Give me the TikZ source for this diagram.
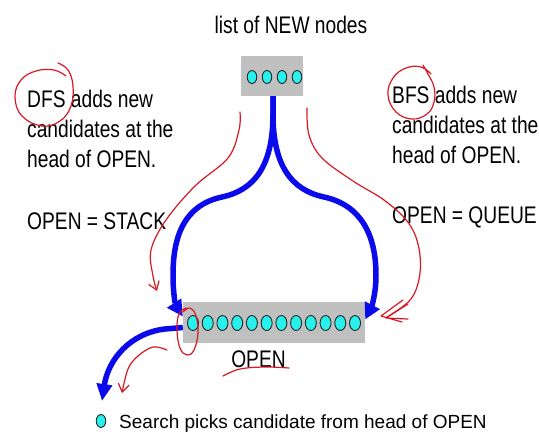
\documentclass[tikz,border=0pt]{standalone}
\usepackage{fontspec}
\newfontfamily\tallsans{Liberation Sans}[FakeStretch=0.8]
\newfontfamily\plainsans{Liberation Sans}
\usetikzlibrary{arrows.meta,shapes.geometric}

\definecolor{boxgray}{RGB}{192,192,192}
\definecolor{nodecyan}{RGB}{40,240,235}
\definecolor{flowblue}{RGB}{10,10,235}
\definecolor{inkred}{RGB}{215,25,35}

\tikzset{
  graybox/.style={rectangle, fill=boxgray, inner sep=0pt},
  dot/.style={ellipse, draw=black!85, line width=0.9pt, fill=nodecyan,
    minimum width=9.5pt, minimum height=13pt, inner sep=0pt},
  bigdot/.style={dot, minimum width=11pt, minimum height=15pt},
  label text/.style={inner sep=0pt, font=\tallsans\fontsize{24}{30}\selectfont},
  legend text/.style={inner sep=0pt, font=\plainsans\fontsize{19}{23}\selectfont},
  flow/.style={draw=flowblue, line width=5.5pt,
    -{Triangle[length=16pt,width=16pt]}},
  ink/.style={draw=inkred, line width=1.2pt, line cap=round, line join=round},
  inkarrow/.style={ink, -{Straight Barb[length=8pt,width=11pt]}},
}

\begin{document}
\begin{tikzpicture}[x=1pt,y=-1pt]
\useasboundingbox (0,0) rectangle (539,437);

% title
\node[label text, anchor=base] (title) at (291,33) {list of NEW nodes};

% list of new nodes
\node[graybox, minimum width=62pt, minimum height=40pt] (newbox) at (272,76) {};
\foreach \i in {0,...,3}
  \node[dot] (n\i) at ({252+15*\i},77) {};

% OPEN list
\node[graybox, minimum width=182pt, minimum height=41pt] (openbox) at (274,322.5) {};
\foreach \i in {0,...,11}
  \node[bigdot] (o\i) at ({193+14.73*\i},323) {};
\node[label text, anchor=base] (openlabel) at (258.5,367) {OPEN};

% side texts
\node[label text, anchor=base west] (dfsa) at (27,107) {DFS adds new};
\node[label text, anchor=base west] (dfsb) at (27,137) {candidates at the};
\node[label text, anchor=base west] (dfsc) at (27,167) {head of OPEN.};
\node[label text, anchor=base west] (dfsd) at (27,229) {OPEN = STACK};

\node[label text, anchor=base west] (bfsa) at (392,103) {BFS adds new};
\node[label text, anchor=base west] (bfsb) at (392,133) {candidates at the};
\node[label text, anchor=base west] (bfsc) at (392,163) {head of OPEN.};
\node[label text, anchor=base west] (bfsd) at (392,223) {OPEN = QUEUE};

% legend
\node[dot] (legdot) at (101,421) {};
\node[legend text, anchor=base west] (legtext) at (119,428) {Search picks candidate from head of OPEN};

% blue flows from the new list into OPEN
\draw[flow] ([xshift=1pt]newbox.south) -- ++(0,18)
  .. controls (273,165) and (255,190) .. (222,197)
  .. controls (185,205) and (173,235) .. (173,275)
  .. controls (173,295) and (176,306) .. ([yshift=6pt]openbox.west);
\draw[flow] ([xshift=1pt]newbox.south) -- ++(0,18)
  .. controls (273,165) and (291,190) .. (324,197)
  .. controls (361,205) and (376,235) .. (376,275)
  .. controls (376,295) and (371,308) .. ([yshift=3pt]openbox.east);

% candidate leaving the head of OPEN
\coordinate (pick) at (102,401);
\draw[draw=flowblue, line width=5.5pt, -{Triangle[length=17pt,width=15pt]}]
  ([yshift=-5pt]openbox.west) -- (165,329)
  .. controls (130,333) and (108,360) .. (pick);

% red pen annotations
\draw[ink] plot[smooth, tension=0.7] coordinates {(58,63) (68,70) (73,86) (71,106) (60,121) (42,126) (22,116) (15,97) (21,80) (36,71) (54,70) (66,76)};
\draw[ink] plot[smooth, tension=0.7] coordinates {(423,65) (428,74) (434,87) (434,102) (427,114) (412,119) (396,112) (388,95) (393,78) (406,68) (421,67) (431,74)};

\draw[inkarrow] plot[smooth, tension=0.6] coordinates {(240,112) (239,130) (228,158) (195,186) (166,220) (151,250) (153,276) (157,291)};
\draw[ink] plot[smooth, tension=0.6] coordinates {(307,108) (309,135) (322,158) (353,181) (384,200) (407,221) (418,244) (420,273) (411,299) (387,317)};
\draw[ink] (408,304) -- (386,318) -- (408,319);
\draw[ink] (403,300) -- (381,316) -- (402,322);

\draw[ink] plot[smooth, tension=0.7] coordinates {(183,312) (190,308) (196,316) (198,333) (194,350) (187,355) (180,348) (177,330) (179,314) (186,308)};

\draw[inkarrow] plot[smooth, tension=0.6] coordinates {(167,350) (153,347) (138,356) (128,369) (122,393)};

\draw[ink] plot[smooth, tension=0.6] coordinates {(223,376) (240,369) (265,367) (289,368)};
\end{tikzpicture}
\end{document}
